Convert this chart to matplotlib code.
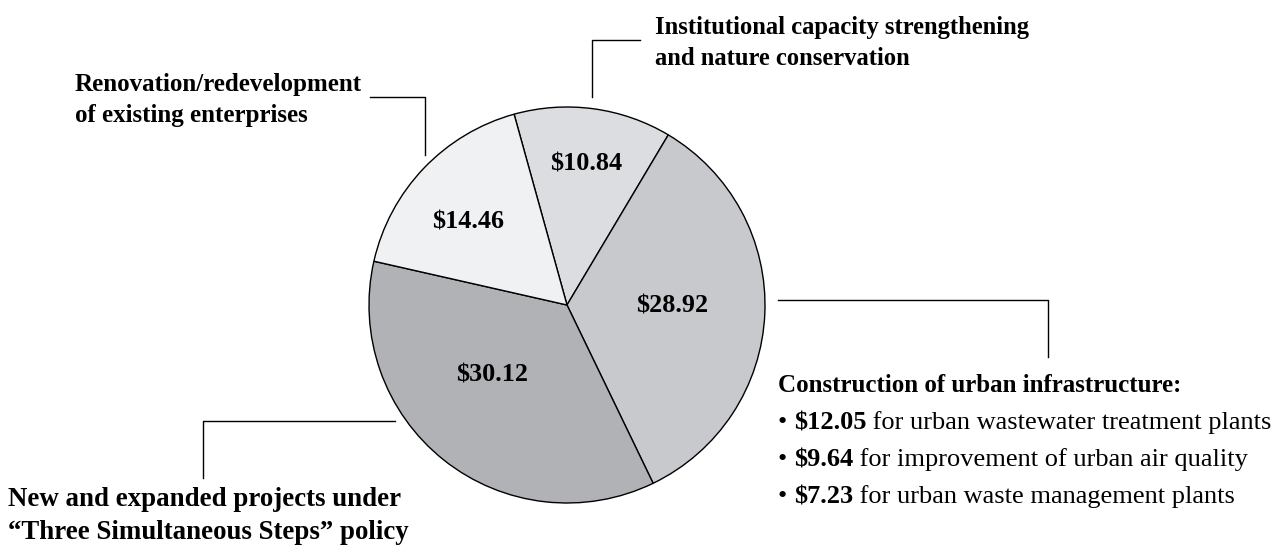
import numpy as np
import matplotlib
matplotlib.use("Agg")
import matplotlib.pyplot as plt

# ---- data ----
categories = [
    "Institutional capacity strengthening\nand nature conservation",
    "Construction of urban infrastructure:",
    "New and expanded projects under\n\u201cThree Simultaneous Steps\u201d policy",
    "Renovation/redevelopment\nof existing enterprises",
]
values = [10.84, 28.92, 30.12, 14.46]
value_labels = ["$10.84", "$28.92", "$30.12", "$14.46"]
colors = ["#dcdde0", "#c8c9cc", "#b1b2b5", "#f0f1f3"]
sub_amounts = ["$12.05", "$9.64", "$7.23"]
sub_items = ["for urban wastewater treatment plants",
             "for improvement of urban air quality",
             "for urban waste management plants"]

W, H = 1277, 546
FONT = "Liberation Serif"

fig = plt.figure(figsize=(W / 100, H / 100), dpi=100)
ax = fig.add_axes([0, 0, 1, 1])

def Y(py):
    return H - py

cx, cy, R = 567, Y(305), 198
wedges, _ = ax.pie(values, colors=colors, startangle=105.5, counterclock=False,
                   center=(cx, cy), radius=R, frame=True,
                   wedgeprops=dict(edgecolor="black", linewidth=1.0))
ax.set_xlim(0, W)
ax.set_ylim(0, H)
ax.set_aspect("auto")
ax.axis("off")

fracs = [0.72, 0.53, 0.52, 0.65]
ang_off = [0, 2, -8.5, 3.6]
for w, lab, f, da in zip(wedges, value_labels, fracs, ang_off):
    ang = np.deg2rad((w.theta1 + w.theta2) / 2 + da)
    ax.text(cx + f * R * np.cos(ang), cy + f * R * np.sin(ang), lab,
            ha="center", va="center", fontsize=18.8, fontweight="bold",
            family=FONT, parse_math=False)

lk = dict(color="black", linewidth=1.0)
# leader lines
ax.plot([640, 592, 592], [Y(40), Y(40), Y(97)], **lk)
ax.plot([370, 425, 425], [Y(97), Y(97), Y(155)], **lk)
ax.plot([778, 1048, 1048], [Y(300), Y(300), Y(357)], **lk)
ax.plot([395, 203, 203], [Y(421), Y(421), Y(478)], **lk)

tk = dict(fontweight="bold", family=FONT, va="center",
          linespacing=1.45, parse_math=False, ha="left")
ax.text(655, Y(43), categories[0], fontsize=17.7, **tk)
ax.text(75, Y(100), categories[3], fontsize=18, **tk)
ax.text(8, Y(516), categories[2], fontsize=19.4, **tk)
ax.text(778, Y(385), categories[1], fontsize=18, **tk)

fig.canvas.draw()
renderer = fig.canvas.get_renderer()
inv = ax.transData.inverted()
for i, (amt, item) in enumerate(zip(sub_amounts, sub_items)):
    y = Y(423 + i * 37)
    x = 778
    parts = [("\u2022 ", "normal"), (amt, "bold"), (" " + item, "normal")]
    for s, wt in parts:
        t = ax.text(x, y, s, ha="left", va="center", fontsize=19, fontweight=wt,
                    family=FONT, parse_math=False)
        bb = t.get_window_extent(renderer)
        x = inv.transform((bb.x1, bb.y0))[0]

fig.savefig("out.png", dpi=100)
